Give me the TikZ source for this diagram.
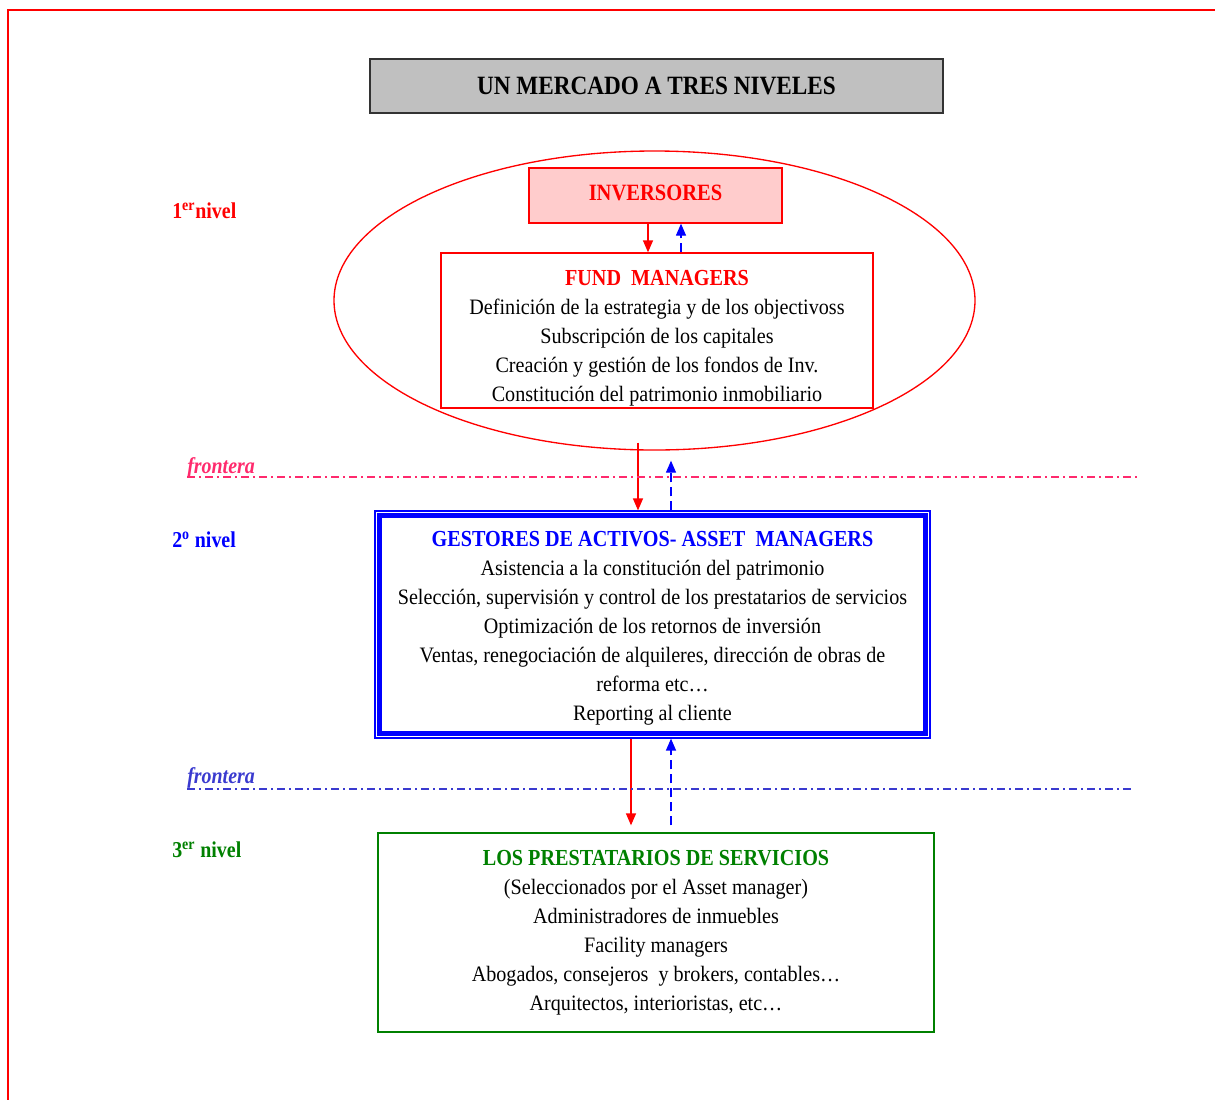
\documentclass[tikz,border=0pt]{standalone}
\usepackage{fontspec}
\setmainfont{Liberation Serif}[FakeStretch=0.88]
\newfontfamily\bodyfont{Liberation Serif}[FakeStretch=0.915]
\usetikzlibrary{shapes.geometric,arrows.meta,calc}
\definecolor{titlegray}{HTML}{C0C0C0}
\definecolor{invpink}{HTML}{FFCCCC}
\definecolor{darkgreen}{HTML}{008000}
\definecolor{fpink}{HTML}{FF2A6D}
\definecolor{fblue}{HTML}{3A3ACF}
\tikzset{
  body/.style={align=center, font=\bodyfont\fontsize{16.5}{21.75}\selectfont, inner sep=0pt},
  redbox/.style={draw=red, line width=1pt},
  redarr/.style={red, line width=1pt, -{Triangle[width=7.5pt,length=9pt]}},
  bluearr/.style={blue, line width=1pt, dash pattern=on 7pt off 3.5pt, -{Triangle[width=7.5pt,length=9pt]}},
  lvl/.style={anchor=west, font=\bfseries\fontsize{17}{20}\selectfont, inner sep=0pt},
  front/.style={anchor=west, font=\bfseries\itshape\fontsize{17}{20}\selectfont, inner sep=0pt},
  frontline/.style={line width=0.9pt, dash pattern=on 6pt off 3pt on 1.5pt off 3pt}
}
\newcommand{\hd}[2]{{\rmfamily\color{#1}\bfseries\fontsize{17.2}{21.75}\selectfont #2}}
\begin{document}
\begin{tikzpicture}[x=0.75pt,y=-0.75pt]
\useasboundingbox (0,0) rectangle (1215,1100);
% frame
\draw[red, line width=1.1pt] (8,1100) -- (8,10) -- (1215,10);
% title
\node[draw=black!80, line width=1.5pt, fill=titlegray, minimum width=429.75pt, minimum height=40.5pt,
      font=\bfseries\fontsize{19.8}{22}\selectfont] (title) at (656.5,86) {UN MERCADO A TRES NIVELES};
% level 1
\node[draw=red, line width=1pt, ellipse, minimum width=480.75pt, minimum height=224.25pt, inner sep=0pt] (ell) at (654.5,300.5) {};
\node[redbox, fill=invpink, minimum width=189.75pt, minimum height=41.25pt, text=red,
      font=\bfseries\fontsize{17.5}{21}\selectfont] (inv) at (655.5,195.5) {\raisebox{4.5pt}{INVERSORES}};
\node[redbox, fill=white, minimum width=324pt, minimum height=116.25pt] (fund) at (657,330.5) {};
\node[body] (fundtxt) at (657,338.5) {\hd{red}{FUND\ \ MANAGERS}\\
Definición de la estrategia y de los objectivoss\\
Subscripción de los capitales\\
Creación y gestión de los fondos de Inv.\\
Constitución del patrimonio inmobiliario};
\draw[redarr] ($(inv.south)+(-7.5,0)$) -- ($(fund.north)+(-9,0)$);
\draw[bluearr] ($(fund.north)+(24,0)$) -- ($(inv.south)+(25.5,0)$);
% level 2
\node[draw=blue, line width=0.9pt, minimum width=416.25pt, minimum height=170.25pt] (asset) at (652.5,624.5) {};
\draw[blue, line width=3.2pt] ($(asset.north west)+(5,5)$) rectangle ($(asset.south east)+(-5,-5)$);
\node[body] (assettxt) at (652.5,628) {\hd{blue}{GESTORES DE ACTIVOS- ASSET\ \ MANAGERS}\\
Asistencia a la constitución del patrimonio\\
Selección, supervisión y control de los prestatarios de servicios\\
Optimización de los retornos de inversión\\
Ventas, renegociación de alquileres, dirección de obras de\\
reforma etc…\\
Reporting al cliente};
\coordinate (e1) at ($(ell.south)+(-16.5,-8)$);
\draw[redarr] (e1) -- (e1 |- asset.north);
\coordinate (b1) at ($(ell.south)+(16.5,10)$);
\draw[bluearr] (b1 |- asset.north) -- (b1);
% level 3
\node[draw=darkgreen, line width=1pt, minimum width=417pt, minimum height=149.25pt] (prest) at (656,932.5) {};
\node[body] (presttxt) at (656,933) {\hd{darkgreen}{LOS PRESTATARIOS DE SERVICIOS}\\
(Seleccionados por el Asset manager)\\
Administradores de inmuebles\\
Facility managers\\
Abogados, consejeros\ \ y brokers, contables…\\
Arquitectos, interioristas, etc…};
\coordinate (r2) at ($(prest.north)+(-25,-7)$);
\draw[redarr] (r2 |- asset.south) -- (r2);
\coordinate (b2) at ($(prest.north)+(15,-7)$);
\draw[bluearr] (b2) -- (b2 |- asset.south);
% frontiers
\coordinate (f1a) at (187,477);
\coordinate (f1b) at (1137,477);
\draw[frontline, fpink] (f1a) -- (f1b);
\node[front, text=fpink] (fr1) at (187,468) {frontera};
\coordinate (f2a) at (187,789);
\coordinate (f2b) at (1133,789);
\draw[frontline, fblue] (f2a) -- (f2b);
\node[front, text=fblue] (fr2) at (187,778) {frontera};
% levels
\node[lvl, text=red] (l1) at (172,211) {1\textsuperscript{er}nivel};
\node[lvl, text=blue] (l2) at (172,540) {2\textsuperscript{o} nivel};
\node[lvl, text=darkgreen] (l3) at (172,850) {3\textsuperscript{er} nivel};
\end{tikzpicture}
\end{document}
